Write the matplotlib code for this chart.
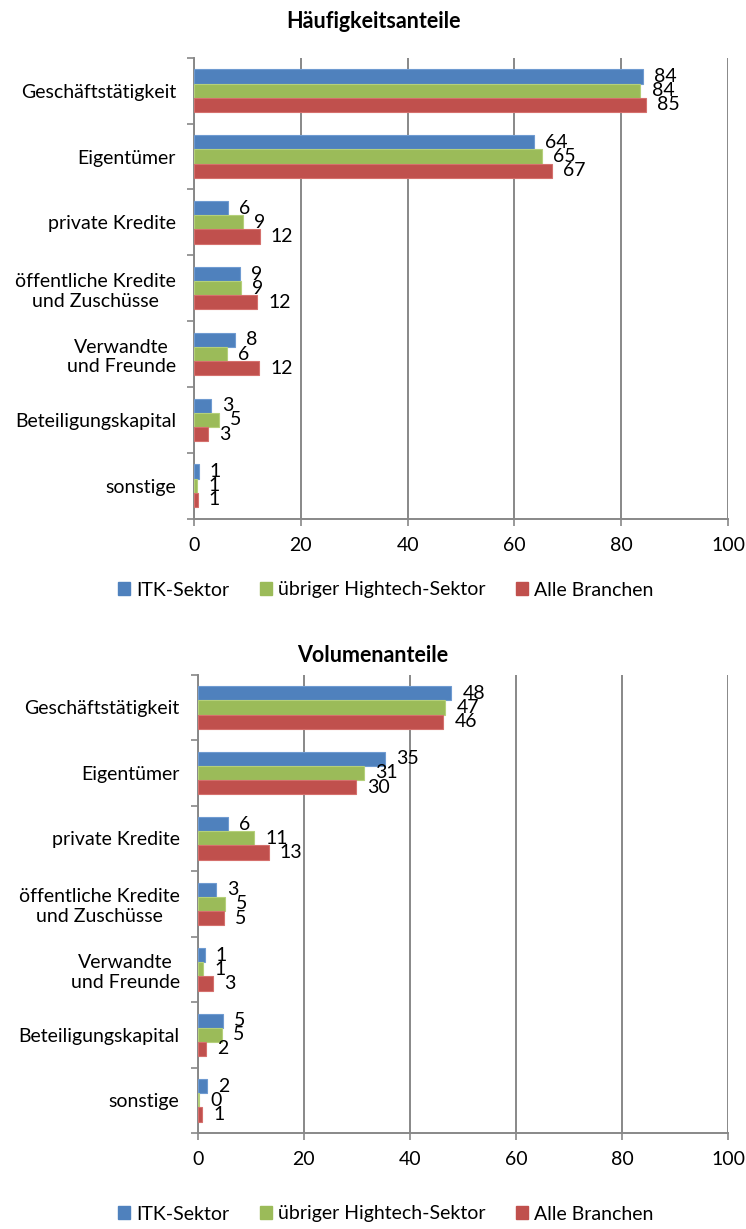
import numpy as np
import matplotlib.pyplot as plt
from matplotlib.patches import Patch

plt.rcParams['font.family'] = ['Lato', 'DejaVu Sans']

categories = ['Geschäftstätigkeit', 'Eigentümer', 'private Kredite',
              'öffentliche Kredite\nund Zuschüsse', 'Verwandte\nund Freunde',
              'Beteiligungskapital', 'sonstige']
series = ['ITK-Sektor', 'übriger Hightech-Sektor', 'Alle Branchen']
colors = ['#4F81BD', '#9BBB59', '#C0504D']
edges = ['#6F9BD1', '#B5D07A', '#D5706D']

# Häufigkeitsanteile
freq_itk = [84.0, 63.6, 6.3, 8.6, 7.6, 3.2, 0.9]
freq_hightech = [83.6, 65.2, 9.2, 8.8, 6.2, 4.6, 0.6]
freq_all = [84.6, 67.1, 12.3, 11.8, 12.2, 2.7, 0.7]

# Volumenanteile
vol_itk = [47.8, 35.3, 5.7, 3.4, 1.3, 4.7, 1.8]
vol_hightech = [46.7, 31.3, 10.6, 5.2, 1.0, 4.6, 0.3]
vol_all = [46.3, 29.8, 13.4, 4.9, 2.9, 1.6, 0.8]

grid_col = '#888888'
fs = 14


def draw_panel(ax, data):
    y = np.arange(len(categories))
    h = 0.215
    for i, vals in enumerate(data):
        pos = y + (i - 1) * h
        ax.barh(pos, vals, height=h, color=colors[i], edgecolor=edges[i],
                linewidth=0.8, zorder=3)
        for p, v in zip(pos, vals):
            ax.annotate(f'{v:.0f}', (v, p), xytext=(8, 0), textcoords='offset points',
                        ha='left', va='center', fontsize=fs, color='black')
    ax.set_xlim(0, 100)
    ax.set_ylim(len(categories) - 0.5, -0.5)
    ax.set_xticks(range(0, 101, 20))
    ax.xaxis.grid(True, color=grid_col, linewidth=1.4, zorder=0)
    ax.set_yticks(y)
    ax.set_yticklabels(categories, multialignment='center')
    ax.set_yticks(np.arange(-0.5, len(categories)), minor=True)
    ax.tick_params(axis='y', which='major', length=0, pad=13, labelsize=fs)
    ax.tick_params(axis='y', which='minor', length=5, width=1.2, color=grid_col)
    ax.tick_params(axis='x', length=5, width=1.2, color=grid_col, labelsize=fs, pad=8)
    for s in ['top', 'right']:
        ax.spines[s].set_visible(False)
    for s in ['left', 'bottom']:
        ax.spines[s].set_color(grid_col)
        ax.spines[s].set_linewidth(1.4)


fig = plt.figure(figsize=(7.46, 12.29), dpi=100)
ax1 = fig.add_axes([0.260, 0.578, 0.716, 0.375])
ax2 = fig.add_axes([0.265, 0.078, 0.711, 0.373])

draw_panel(ax1, [freq_itk, freq_hightech, freq_all])
draw_panel(ax2, [vol_itk, vol_hightech, vol_all])

fig.text(0.5, 1 - 22 / 1229, 'Häufigkeitsanteile', ha='center', va='center',
         fontsize=15.5, fontweight='bold')
fig.text(0.5, 1 - 656 / 1229, 'Volumenanteile', ha='center', va='center',
         fontsize=15.5, fontweight='bold')

handles = [Patch(facecolor=c, edgecolor=c) for c in colors]
for yy in [1 - 590 / 1229, 1 - 1214 / 1229]:
    fig.legend(handles, series, loc='center', bbox_to_anchor=(0.517, yy), ncol=3,
               frameon=False, fontsize=fs, handlelength=0.6, handleheight=0.6,
               handletextpad=0.3, columnspacing=1.6)

fig.savefig('out.png', dpi=100)
